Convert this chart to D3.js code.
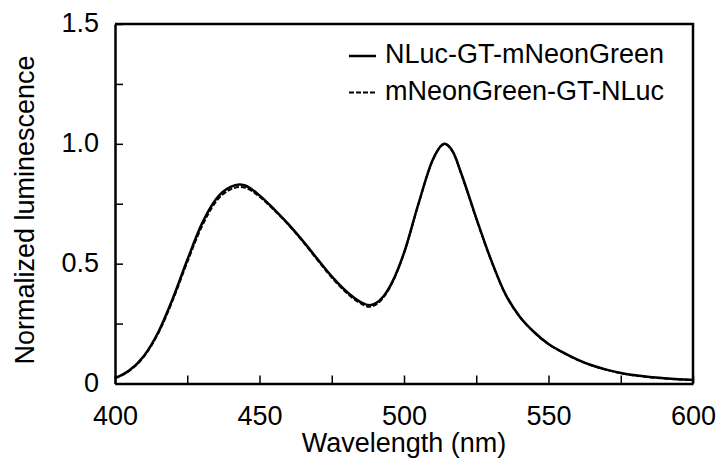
<!DOCTYPE html>
<html>
<head>
<meta charset="utf-8">
<script src="https://cdn.jsdelivr.net/npm/d3@7"></script>
<style>
  body { margin: 0; background: #fff; }
  svg { display: block; font-family: "Liberation Sans", Arial, sans-serif; }
</style>
</head>
<body>
<div id="chart"></div>
<script>
// Wavelength samples (nm) and normalized luminescence
const wavelengths = [400, 405, 410, 415, 420, 425, 430, 435, 440, 443, 445, 450, 455, 460, 465, 470, 475, 480, 485, 488, 490, 493, 496, 500, 505, 510, 514, 517, 520, 525, 530, 535, 540, 545, 550, 555, 560, 565, 570, 575, 580, 585, 590, 595, 600];
const nlucGtNeon = [0.022, 0.055, 0.115, 0.215, 0.355, 0.515, 0.665, 0.77, 0.82, 0.83, 0.826, 0.785, 0.728, 0.665, 0.595, 0.52, 0.447, 0.385, 0.34, 0.327, 0.333, 0.365, 0.425, 0.545, 0.75, 0.935, 1.0, 0.965, 0.87, 0.69, 0.52, 0.375, 0.28, 0.215, 0.165, 0.13, 0.1, 0.076, 0.058, 0.044, 0.034, 0.027, 0.022, 0.018, 0.015];
const neonGtNluc = [0.022, 0.053, 0.112, 0.21, 0.348, 0.506, 0.654, 0.76, 0.81, 0.82, 0.817, 0.779, 0.724, 0.662, 0.592, 0.516, 0.442, 0.38, 0.334, 0.32, 0.327, 0.361, 0.422, 0.543, 0.748, 0.933, 0.998, 0.963, 0.868, 0.688, 0.518, 0.374, 0.279, 0.214, 0.164, 0.129, 0.099, 0.075, 0.057, 0.043, 0.033, 0.026, 0.021, 0.017, 0.014];

const seriesNames = ["NLuc-GT-mNeonGreen", "mNeonGreen-GT-NLuc"];
const xTicks = [400, 425, 450, 475, 500, 525, 550, 575, 600];
const yTicks = [0, 0.25, 0.5, 0.75, 1.0, 1.25, 1.5];

const width = 720, height = 461;
const margin = { top: 24, right: 27, bottom: 77.5, left: 115 };
const innerW = width - margin.left - margin.right;
const innerH = height - margin.top - margin.bottom;

const svg = d3.select("#chart").append("svg")
  .attr("width", width)
  .attr("height", height);

svg.append("rect").attr("width", width).attr("height", height).attr("fill", "#fff");

const g = svg.append("g")
  .attr("transform", `translate(${margin.left},${margin.top})`);

const x = d3.scaleLinear().domain([400, 600]).range([0, innerW]);
const y = d3.scaleLinear().domain([0, 1.5]).range([innerH, 0]);

// Curves
const series = [
  { name: seriesNames[0], values: nlucGtNeon, dash: null, width: 2.5 },
  { name: seriesNames[1], values: neonGtNluc, dash: "5,2", width: 2 }
];

const line = d3.line()
  .x(d => x(d[0]))
  .y(d => y(d[1]))
  .curve(d3.curveMonotoneX);

// dashed first so the solid one sits on top
series.slice().reverse().forEach(s => {
  g.append("path")
    .datum(wavelengths.map((w, i) => [w, s.values[i]]))
    .attr("fill", "none")
    .attr("stroke", "#000")
    .attr("stroke-width", s.width)
    .attr("stroke-dasharray", s.dash)
    .attr("d", line);
});

// Frame (top + right)
g.append("path")
  .attr("d", `M0,0H${innerW}V${innerH}`)
  .attr("fill", "none")
  .attr("stroke", "#000")
  .attr("stroke-width", 2.5);

// X axis
const xAxis = g.append("g")
  .attr("transform", `translate(0,${innerH})`)
  .call(d3.axisBottom(x)
    .tickValues(xTicks)
    .tickSizeInner(-8)
    .tickSizeOuter(0)
    .tickFormat(d => d % 50 === 0 ? d : ""));

xAxis.select(".domain").attr("stroke-width", 2.5);
xAxis.selectAll(".tick line").attr("stroke-width", 1.5);
xAxis.selectAll("text")
  .attr("y", 41)
  .attr("dy", 0)
  .attr("font-size", 27)
  .attr("font-family", "Liberation Sans, Arial, sans-serif")
  .attr("fill", "#000");

// Y axis
const yAxis = g.append("g")
  .call(d3.axisLeft(y)
    .tickValues(yTicks)
    .tickSizeInner(-8)
    .tickSizeOuter(0)
    .tickFormat(d => (d * 2) % 1 === 0 ? (d === 0 ? "0" : d.toFixed(1)) : ""));

yAxis.select(".domain").attr("stroke-width", 2.5);
yAxis.selectAll(".tick line").attr("stroke-width", 1.5);
yAxis.selectAll("text")
  .attr("x", -16)
  .attr("dy", "0.28em")
  .attr("font-size", 27)
  .attr("font-family", "Liberation Sans, Arial, sans-serif")
  .attr("fill", "#000");

// Axis titles
svg.append("text")
  .attr("x", margin.left + innerW / 2)
  .attr("y", 452)
  .attr("text-anchor", "middle")
  .attr("font-size", 27)
  .text("Wavelength (nm)");

svg.append("text")
  .attr("transform", `translate(34,210) rotate(-90)`)
  .attr("text-anchor", "middle")
  .attr("font-size", 27)
  .text("Normalized luminescence");

// Legend
const legend = svg.append("g").attr("transform", "translate(349,56)");
series.forEach((s, i) => {
  const row = legend.append("g").attr("transform", `translate(0,${i * 36.5})`);
  row.append("line")
    .attr("x1", 0).attr("x2", 27)
    .attr("y1", 0).attr("y2", 0)
    .attr("stroke", "#000")
    .attr("stroke-width", s.width)
    .attr("stroke-dasharray", s.dash);
  row.append("text")
    .attr("x", 36)
    .attr("y", 7)
    .attr("font-size", 27)
    .text(s.name);
});
</script>
</body>
</html>
